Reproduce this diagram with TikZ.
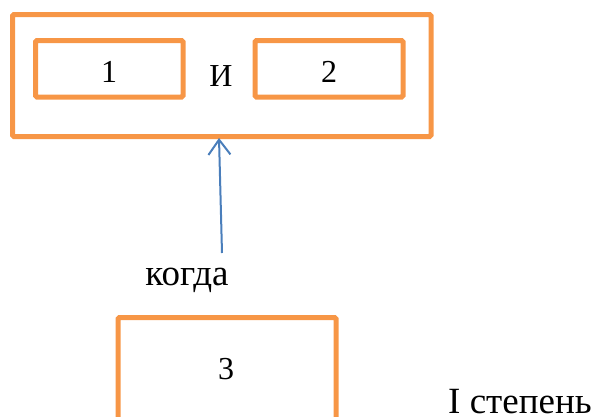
\documentclass[tikz,border=0pt]{standalone}
\usepackage{fontspec}
\setmainfont{Liberation Serif}
\usetikzlibrary{arrows.meta}
\definecolor{boxorange}{HTML}{F79646}
\definecolor{arrowblue}{HTML}{4A7EBB}
\begin{document}
\begin{tikzpicture}[x=1pt,y=-1pt,
  box/.style={draw=boxorange,line width=5pt,rounded corners=1.5pt,inner sep=0pt,minimum width=#1},
  lbl/.style={inner sep=0pt,font=\fontsize{37}{44}\selectfont},
  num/.style={inner sep=0pt,font=\fontsize{32}{38}\selectfont},
  conn/.style={draw=arrowblue,line width=2pt,-{Straight Barb[length=15pt,width=22pt,line width=2pt]}}]
\useasboundingbox (0,0) rectangle (595,416);
\node[box=418.5pt,minimum height=122pt] (outer) at (221.75,75.5) {};
\node[box=147.5pt,minimum height=56.5pt] (b1) at (109.25,68.75) {};
\node[box=148pt,minimum height=56.5pt] (b2) at (329,68.75) {};
\node[num] (t1) at (109,72) {1};
\node[num] (t2) at (329,72) {2};
\node[num] (and) at (221,76) {И};
\node[lbl,anchor=base] (kogda) at (187,285) {когда};
\node[box=218pt,minimum height=105pt] (b3) at (227,370) {};
\node[num] (t3) at (226,369) {3};
\node[lbl,anchor=base west] (deg) at (448,413) {I степень};
\coordinate (tail) at (222,253);
\coordinate (tip) at (219,138);
\draw[conn] (tail) -- (tip);
\end{tikzpicture}
\end{document}
